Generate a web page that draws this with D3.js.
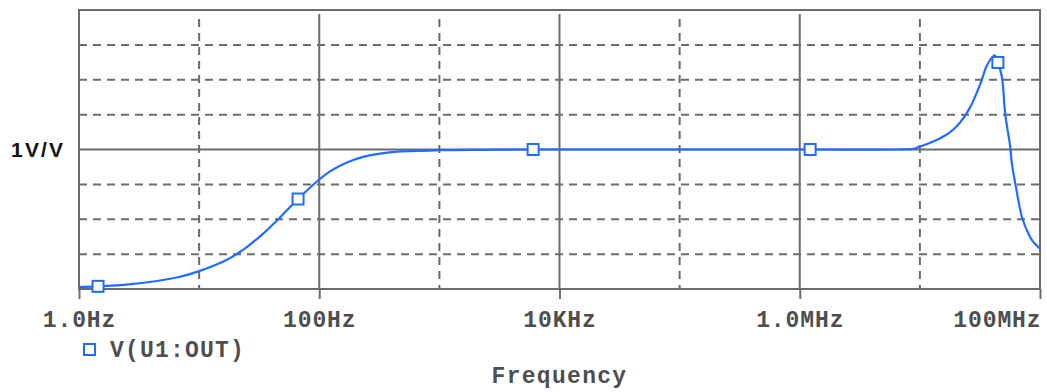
<!DOCTYPE html>
<html>
<head>
<meta charset="utf-8">
<script src="https://cdn.jsdelivr.net/npm/d3@7"></script>
<style>
  html, body { margin: 0; padding: 0; background: #fff; }
  svg { display: block; }
  .mono { font-family: "Liberation Mono", "DejaVu Sans Mono", monospace; font-weight: bold; fill: #4f4f4f; }
</style>
</head>
<body>
<svg id="chart" width="1047" height="392"></svg>
<script>
// AC sweep of V(U1:OUT): frequency (Hz) vs gain (V/V)
const freqHz = [1, 1.44, 2.6, 6.8, 10, 17.7, 24.6, 33.4, 46.3, 66.6, 99.6, 123, 170, 232, 321, 471,
  1014, 2500, 5000, 6030, 1e5, 1.22e6, 6.35e6, 8.8e6, 10.05e6, 12.2e6, 14.8e6, 17.9e6, 21.7e6,
  26.2e6, 31.8e6, 36.3e6, 40.8e6, 42e6, 44.6e6, 48.2e6, 51.3e6, 56.5e6, 58.3e6, 63.4e6, 70.7e6,
  79.8e6, 87.7e6, 98.4e6, 1e8];
const gainVV = [0.014, 0.019, 0.033, 0.086, 0.128, 0.217, 0.297, 0.39, 0.506, 0.645, 0.783, 0.843,
  0.907, 0.947, 0.971, 0.986, 0.995, 0.998, 1.0, 1.0, 1.0, 1.0, 1.0, 1.005, 1.021, 1.048, 1.081,
  1.124, 1.195, 1.302, 1.469, 1.605, 1.668, 1.675, 1.624, 1.52, 1.257, 1.02, 0.9, 0.72, 0.516,
  0.40, 0.338, 0.295, 0.286];
const markerFreqs = [1.44, 66.6, 6030, 1.22e6, 44.6e6];

const majorTicks = [1, 100, 1e4, 1e6, 1e8];
const tickLabels = ["1.0Hz", "100Hz", "10KHz", "1.0MHz", "100MHz"];
const minorTicks = [10, 1e3, 1e5, 1e7];
const gridDashed = [0.25, 0.5, 0.75, 1.25, 1.5, 1.75];
const gridSolid = [1];
const yLabel = "1V/V";
const seriesName = "V(U1:OUT)";
const xTitle = "Frequency";

const svg = d3.select("#chart");
const L = 79, R = 1040, T = 10, B = 289;
const x = d3.scaleLog().domain([1, 1e8]).range([L, R]);
const y = d3.scaleLinear().domain([0, 2]).range([B, T]);

const gridColor = "#6c6c6c";
const blue = "#1f6cff";

// horizontal grid
svg.append("g").selectAll("line").data(gridDashed).join("line")
  .attr("x1", L).attr("x2", R).attr("y1", d => y(d)).attr("y2", d => y(d))
  .attr("stroke", gridColor).attr("stroke-width", 2).attr("stroke-dasharray", "8 6");
svg.append("g").selectAll("line").data(gridSolid).join("line")
  .attr("x1", L).attr("x2", R).attr("y1", d => y(d)).attr("y2", d => y(d))
  .attr("stroke", gridColor).attr("stroke-width", 2);

// vertical grid
svg.append("g").selectAll("line").data(minorTicks).join("line")
  .attr("x1", d => x(d)).attr("x2", d => x(d)).attr("y1", T + 9).attr("y2", B)
  .attr("stroke", gridColor).attr("stroke-width", 2).attr("stroke-dasharray", "8 6");
svg.append("g").selectAll("line").data(majorTicks.slice(1, -1)).join("line")
  .attr("x1", d => x(d)).attr("x2", d => x(d)).attr("y1", T + 4).attr("y2", B)
  .attr("stroke", gridColor).attr("stroke-width", 2);

// frame
svg.append("rect").attr("x", L).attr("y", T).attr("width", R - L).attr("height", B - T)
  .attr("fill", "none").attr("stroke", gridColor).attr("stroke-width", 2);

// bottom axis with decade labels
const xAxis = d3.axisBottom(x).tickValues(majorTicks)
  .tickFormat((d, i) => tickLabels[i]).tickSize(10).tickPadding(13);
const gx = svg.append("g").attr("transform", `translate(0,${B})`).call(xAxis);
gx.select(".domain").remove();
gx.selectAll(".tick line").attr("stroke", gridColor).attr("stroke-width", 2);
gx.selectAll(".tick text").attr("class", "mono").attr("font-size", 23)
  .attr("dy", null).attr("y", 38).attr("letter-spacing", 0.9)
  .attr("text-anchor", (d, i) => i === majorTicks.length - 1 ? "end" : "middle")
  .attr("dx", (d, i) => i === majorTicks.length - 1 ? 1 : 0)
  .style("fill", "#4f4f4f");

// y label
svg.append("text").attr("x", 11).attr("y", 157).text(yLabel)
  .attr("font-family", "Arial, 'Liberation Sans', sans-serif").attr("font-weight", "bold")
  .attr("font-size", 21).attr("letter-spacing", 2.2).attr("fill", "#111");

// response curve
const pts = freqHz.map((f, i) => [f, gainVV[i]]);
const line = d3.line().x(d => x(d[0])).y(d => y(d[1])).curve(d3.curveCatmullRom.alpha(0.5));
svg.append("path").attr("d", line(pts)).attr("fill", "none")
  .attr("stroke", blue).attr("stroke-width", 2.2);

// markers
const mk = markerFreqs.map(f => [f, gainVV[freqHz.indexOf(f)]]);
svg.append("g").selectAll("rect").data(mk).join("rect")
  .attr("x", d => x(d[0]) - 5.5).attr("y", d => y(d[1]) - 5.5)
  .attr("width", 11).attr("height", 11)
  .attr("fill", "#fff").attr("stroke", blue).attr("stroke-width", 2);

// legend
svg.append("rect").attr("x", 84).attr("y", 344).attr("width", 11).attr("height", 11)
  .attr("fill", "#fff").attr("stroke", blue).attr("stroke-width", 2);
svg.append("text").attr("class", "mono").attr("x", 110).attr("y", 357)
  .attr("font-size", 23).attr("letter-spacing", 1.2).text(seriesName);

// x title
svg.append("text").attr("class", "mono").attr("x", (L + R) / 2).attr("y", 383)
  .attr("text-anchor", "middle").attr("font-size", 23).attr("letter-spacing", 1.3).text(xTitle);
</script>
</body>
</html>
